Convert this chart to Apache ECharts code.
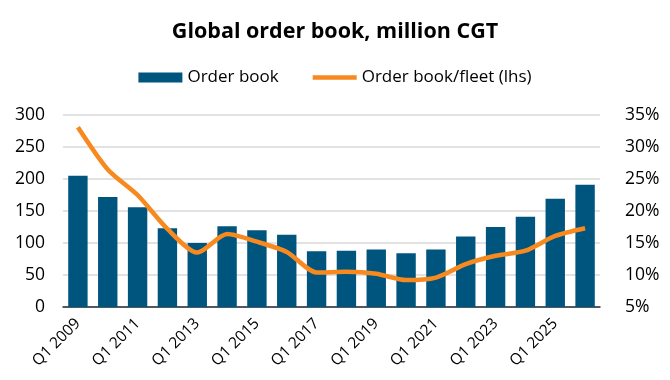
<!DOCTYPE html>
<html><head><meta charset="utf-8">
<script src="https://cdn.jsdelivr.net/npm/echarts@6/dist/echarts.min.js"></script>
<style>html,body{margin:0;padding:0;background:#fff}#c{width:670px;height:380px}</style>
</head><body><div id="c"></div>
<script>
const categories = ["Q1 2009","Q1 2010","Q1 2011","Q1 2012","Q1 2013","Q1 2014","Q1 2015","Q1 2016","Q1 2017","Q1 2018","Q1 2019","Q1 2020","Q1 2021","Q1 2022","Q1 2023","Q1 2024","Q1 2025","Q1 2026"];
const orderBook = [205,172,156,123,100,126,120,113,87,88,90,84,90,110,125,141,169,191];
const orderBookFleet = [33.1,26.5,22.5,17.2,13.5,16.4,15.2,13.6,10.4,10.5,10.2,9.2,9.6,11.7,13.0,13.8,16.1,17.3];
const font = "'Open Sans', 'Noto Sans', sans-serif";
const chart = echarts.init(document.getElementById('c'));
chart.setOption({
  animation:false,
  title:{text:'Global order book, million CGT',left:'center',top:16,textStyle:{fontFamily:font,fontSize:21.5,fontWeight:'bold',color:'#000'}},
  legend:{top:64,left:'center',itemGap:34,textStyle:{fontFamily:font,fontSize:17,color:'#000'},
    data:[{name:'Order book',icon:'rect',itemStyle:{color:'#00557f'}},{name:'Order book/fleet (lhs)',icon:'path://M0,0 L10,0 L10,1 L0,1 Z'}],
    itemWidth:44,itemHeight:10},
  grid:{left:63,right:70,top:115,bottom:73},
  xAxis:{type:'category',data:categories,axisTick:{show:false},
    axisLine:{lineStyle:{color:'#1f2d3a',width:1.5}},
    axisLabel:{interval:1,rotate:45,fontFamily:font,fontSize:15.5,color:'#000',margin:14}},
  yAxis:[
    {type:'value',min:0,max:300,interval:50,axisLabel:{fontFamily:font,fontSize:17.5,color:'#000',margin:18},
     splitLine:{lineStyle:{color:'#d9d9d9',width:1.5}}},
    {type:'value',min:5,max:35,interval:5,position:'right',axisLabel:{formatter:'{value}%',fontFamily:font,fontSize:17.5,color:'#000',margin:25},
     splitLine:{show:false}}
  ],
  series:[
    {name:'Order book',type:'bar',data:orderBook,barCategoryGap:'35%',itemStyle:{color:'#00557f'}},
    {name:'Order book/fleet (lhs)',type:'line',yAxisIndex:1,data:orderBookFleet,smooth:0.25,symbol:'none',
     lineStyle:{color:'#f7891f',width:4.5},itemStyle:{color:'#f7891f'}}
  ]
});
</script></body></html>
